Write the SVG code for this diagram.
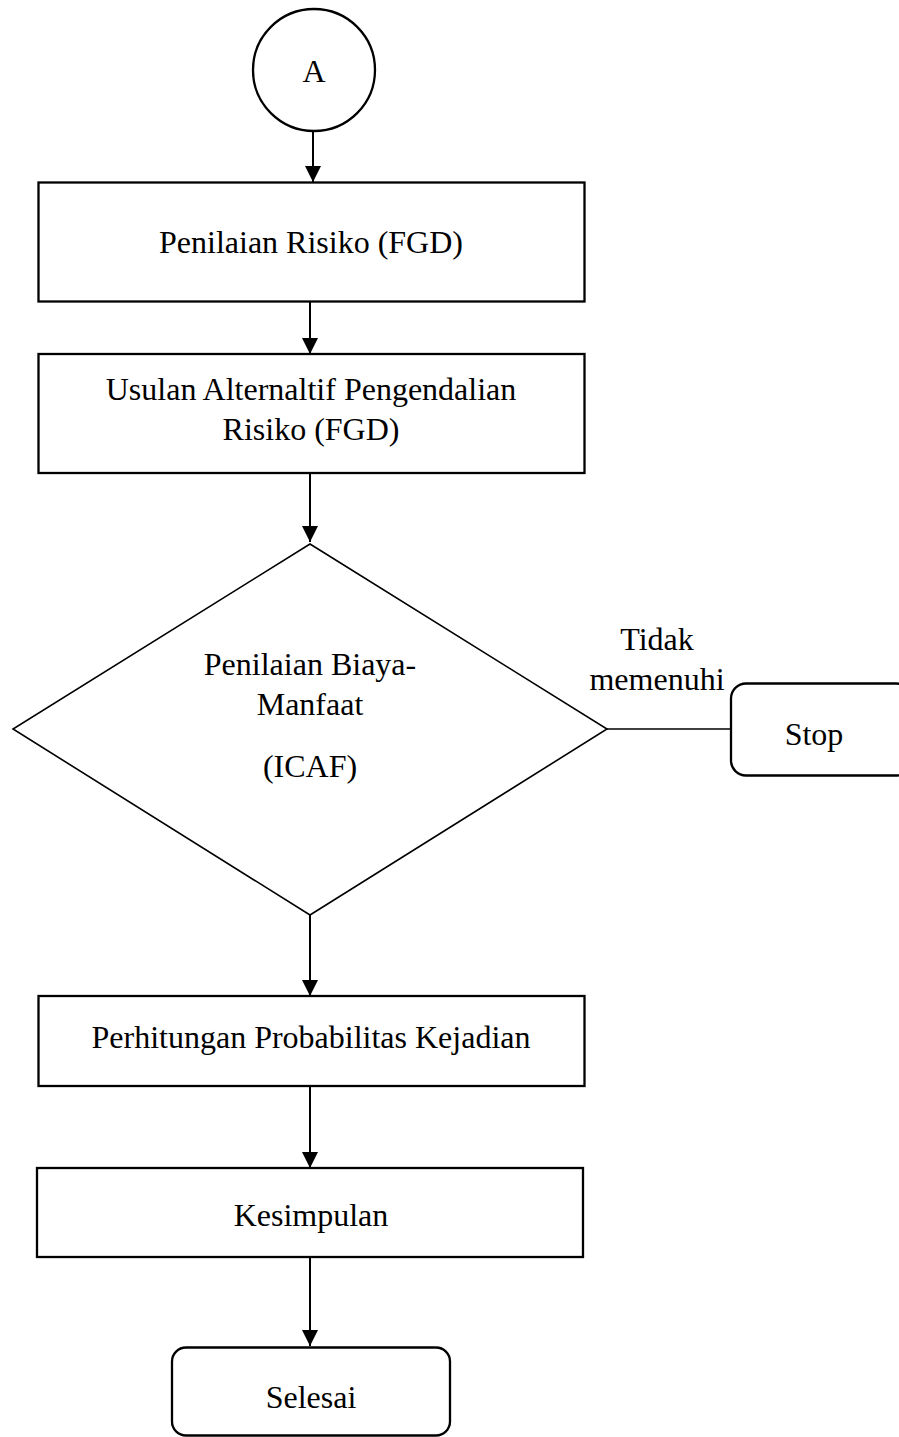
<svg xmlns="http://www.w3.org/2000/svg" width="899" height="1437" viewBox="0 0 899 1437">
<defs>
<style>
.s{fill:#fff;stroke:#000;stroke-width:2.3}
.d{fill:#fff;stroke:#000;stroke-width:1.6}
.t{font-family:"Liberation Serif","Times New Roman",serif;font-size:32px;fill:#000;text-anchor:middle}
.c{fill:none;stroke:#000;stroke-width:2}
</style>
<marker id="ah" viewBox="0 0 16 16" refX="16" refY="8" markerWidth="16" markerHeight="16" markerUnits="userSpaceOnUse" orient="auto">
<path d="M0,0 L16,8 L0,16 Z" fill="#000"/>
</marker>
</defs>
<rect width="899" height="1437" fill="#fff"/>
<g id="connectors">
<line class="c" x1="313" y1="131" x2="313" y2="182" marker-end="url(#ah)"/>
<line class="c" x1="310" y1="301" x2="310" y2="354" marker-end="url(#ah)"/>
<line class="c" x1="310" y1="473" x2="310" y2="542" marker-end="url(#ah)"/>
<line class="c" x1="310" y1="915" x2="310" y2="996" marker-end="url(#ah)"/>
<line class="c" x1="310" y1="1086" x2="310" y2="1168" marker-end="url(#ah)"/>
<line class="c" x1="310" y1="1257" x2="310" y2="1346" marker-end="url(#ah)"/>
<line stroke="#000" stroke-width="1.3" x1="607" y1="729" x2="731" y2="729"/>
<text class="t" x="657" y="650">Tidak</text>
<text class="t" x="657" y="690">memenuhi</text>
</g>
<g id="nodeA">
<circle class="s" cx="314" cy="70" r="61"/>
<text class="t" x="314" y="82">A</text>
</g>
<g id="node1">
<rect class="s" x="38.5" y="182.5" width="546" height="119"/>
<text class="t" x="311" y="253">Penilaian Risiko (FGD)</text>
</g>
<g id="node2">
<rect class="s" x="38.5" y="354" width="546" height="119"/>
<text class="t" x="311" y="400">Usulan Alternaltif Pengendalian</text>
<text class="t" x="311" y="440">Risiko (FGD)</text>
</g>
<g id="decision">
<polygon class="d" points="310,544 607,729 310,915 13,729"/>
<text class="t" x="310" y="675">Penilaian Biaya-</text>
<text class="t" x="310" y="715">Manfaat</text>
<text class="t" x="310" y="777">(ICAF)</text>
</g>
<g id="stop">
<rect class="s" x="731" y="683.5" width="180" height="92" rx="15" ry="15"/>
<text class="t" x="814" y="745">Stop</text>
</g>
<g id="node3">
<rect class="s" x="38.5" y="996" width="546" height="90"/>
<text class="t" x="311" y="1048">Perhitungan Probabilitas Kejadian</text>
</g>
<g id="node4">
<rect class="s" x="37" y="1168" width="546" height="89"/>
<text class="t" x="311" y="1226">Kesimpulan</text>
</g>
<g id="end">
<rect class="s" x="172" y="1347.5" width="278" height="88" rx="14" ry="14"/>
<text class="t" x="311" y="1408">Selesai</text>
</g>
</svg>
